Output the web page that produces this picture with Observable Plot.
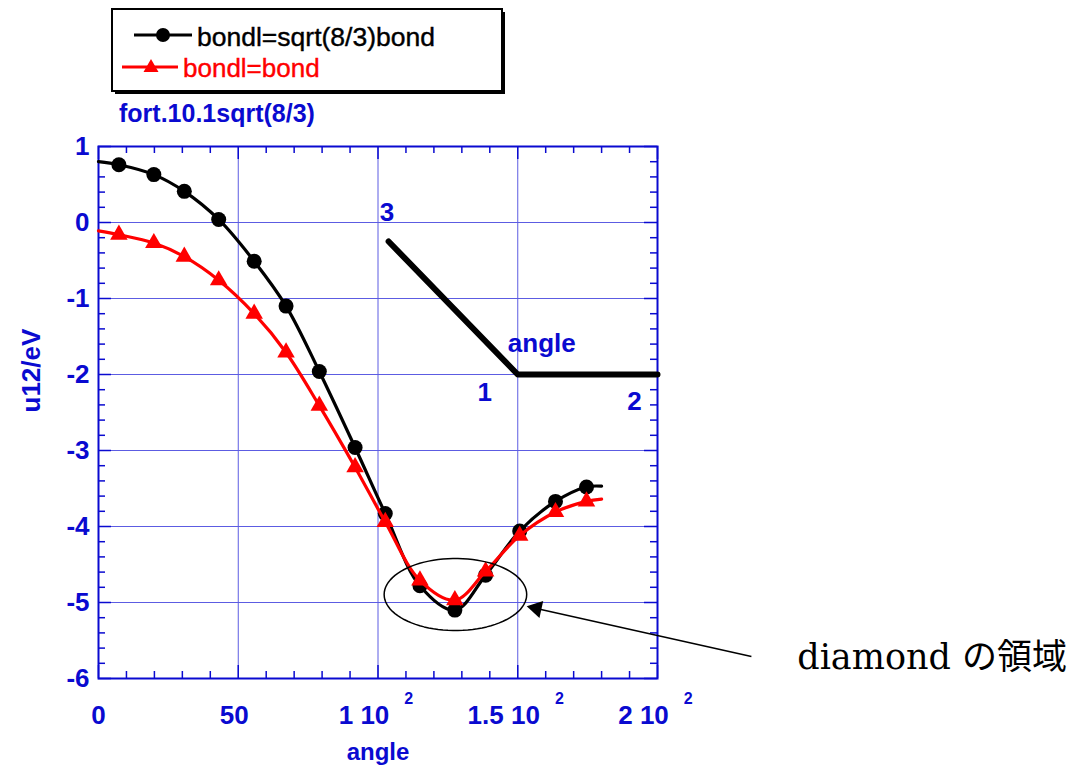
<!DOCTYPE html>
<html><head><meta charset="utf-8">
<script src="https://cdn.jsdelivr.net/npm/d3@7"></script>
<script src="https://cdn.jsdelivr.net/npm/@observablehq/plot@0.6"></script>
<style>
body{margin:0;background:#fff;}
#wrap{position:relative;width:1086px;height:772px;overflow:hidden;}
#wrap svg{position:absolute;left:0;top:0;}
</style></head>
<body>
<div id="wrap">
<svg id="legend" width="1086" height="130" style="font-family:'Liberation Sans',Arial,sans-serif">
  <rect x="115" y="12" width="390" height="82" fill="#000"/>
  <rect x="112" y="9" width="390" height="82" fill="#fff" stroke="#000" stroke-width="2"/>
  <line x1="134" y1="35" x2="192" y2="35" stroke="#000" stroke-width="3"/>
  <circle cx="163" cy="35" r="7" fill="#000"/>
  <text x="197" y="46" font-size="26.5" fill="#000" stroke="#000" stroke-width="0.4">bondl=sqrt(8/3)bond</text>
  <line x1="122" y1="67" x2="178" y2="67" stroke="#ff0000" stroke-width="3"/>
  <path d="M151,59 L158.5,72 L143.5,72 Z" fill="#ff0000"/>
  <text x="183" y="77" font-size="26" fill="#ff0000" stroke="#ff0000" stroke-width="0.4">bondl=bond</text>
  <text x="119" y="122" font-size="25" font-weight="bold" fill="#0a0ad0">fort.10.1sqrt(8/3)</text>
</svg>
</div>
<script>
// ---- data ----
const angles   = [7.3, 19.8, 30.7, 43, 55.7, 67.1, 79, 91.8, 102.6, 115, 127.5, 138.5, 150.7, 163.5, 174.6];
const sqrtBond = [0.76, 0.63, 0.41, 0.04, -0.51, -1.10, -1.96, -2.96, -3.83, -4.78, -5.10, -4.64, -4.06, -3.67, -3.48];
const bond     = [-0.16, -0.27, -0.45, -0.76, -1.20, -1.71, -2.41, -3.22, -3.94, -4.71, -4.97, -4.59, -4.12, -3.81, -3.67];
const lineEndAngles = [0, 180];
const sqrtBondEnds  = [0.80, -3.47];
const bondEnds      = [-0.11, -3.64];

const xTickValues = [0, 50, 100, 150, 200];
const xTickLabels = ["0", "50", "1 10", "1.5 10", "2 10"];
const xTickExps   = ["", "", "2", "2", "2"];
const yTickValues = [1, 0, -1, -2, -3, -4, -5, -6];
const yTickLabels = ["1", "0", "-1", "-2", "-3", "-4", "-5", "-6"];

// inset bond-angle sketch
const insetAngles = [103.8, 150, 200];
const insetValues = [-0.25, -2, -2];
const insetLabelText   = ["3", "1", "2", "angle"];
const insetLabelAngles = [103.2, 138.2, 191.8, 158.6];
const insetLabelValues = [0.13, -2.24, -2.36, -1.6];

// annotation
const ellipseCenter = [127.7, -4.895];
const ellipseRadii  = [25.5, 0.474];
const arrowTail = [233.6, -5.71];
const arrowTip  = [153.2, -5.05];
const noteText  = "diamond の領域";
const notePos   = [250, -5.73];

// ---- layout ----
const W = 1086, H = 772, mL = 98, mR = 429, mT = 146, mB = 94;
const pxX = (W - mL - mR) / 200, pxY = (H - mT - mB) / 7;
const blue = "#0a0ad0", gridBlue = "#5c5ce2";

const withEnds = (vals, ends) => {
  const pts = angles.map((a, i) => ({x: a, y: vals[i]}));
  return [{x: lineEndAngles[0], y: ends[0]}, ...pts, {x: lineEndAngles[1], y: ends[1]}];
};
const blackPts = angles.map((a, i) => ({x: a, y: sqrtBond[i]}));
const redPts = angles.map((a, i) => ({x: a, y: bond[i]}));
const blackLine = withEnds(sqrtBond, sqrtBondEnds);
const redLine = withEnds(bond, bondEnds);

const minorX = d3.range(0, 201, 10);
const minorY = d3.range(-30, 6).map(k => k / 5);
const isMajX = d => d % 50 === 0;
const isMajY = d => Math.abs(d - Math.round(d)) < 1e-6;
const lenX = d => (isMajX(d) ? 13 : 7) / pxY;
const lenY = d => (isMajY(d) ? 13 : 7) / pxX;

const ellipse = d3.range(0, 360, 4).map(t => ({
  x: ellipseCenter[0] + ellipseRadii[0] * Math.cos(t * Math.PI / 180),
  y: ellipseCenter[1] + ellipseRadii[1] * Math.sin(t * Math.PI / 180)
}));

// arrow head geometry in pixels
const sdx = (arrowTip[0] - arrowTail[0]) * pxX, sdy = -(arrowTip[1] - arrowTail[1]) * pxY;
const slen = Math.hypot(sdx, sdy);
const headH = 15, headBack = headH * 2 / 3;
const headC = {x: arrowTip[0] - (sdx / slen) * headBack / pxX, y: arrowTip[1] + (sdy / slen) * headBack / pxY};
const headRot = Math.atan2(sdx, -sdy) * 180 / Math.PI;
const headR = Math.sqrt(3 * Math.sqrt(3) * (headH / 3) ** 2 / Math.PI);

// tick label widths for superscript placement
const ctx = document.createElement("canvas").getContext("2d");
ctx.font = "bold 26px 'Liberation Sans'";
const xt = xTickValues.map((v, i) => ({v, label: xTickLabels[i], exp: xTickExps[i], w: ctx.measureText(xTickLabels[i]).width}));
const baseX = d => d.v + (d.exp ? -14 : (d.v === 50 ? -4 : 0)) / pxX;
const supX = d => d.v + (-14 + d.w / 2 + 15) / pxX;

const font = "Liberation Sans, Arial, sans-serif";

const chart = Plot.plot({
  width: W, height: H,
  marginLeft: mL, marginRight: mR, marginTop: mT, marginBottom: mB,
  x: {domain: [0, 200], axis: null},
  y: {domain: [-6, 1], axis: null},
  style: {background: "transparent", fontFamily: font, overflow: "visible"},
  marks: [
    Plot.gridX([50, 100, 150], {stroke: gridBlue, strokeOpacity: 1, strokeWidth: 1}),
    Plot.gridY([-5, -4, -3, -2, -1, 0], {stroke: gridBlue, strokeOpacity: 1, strokeWidth: 1}),
    // ticks (inward)
    Plot.ruleX(minorX, {x: d => d, y1: -6, y2: d => -6 + lenX(d), stroke: blue, strokeWidth: 1.5}),
    Plot.ruleX(minorX, {x: d => d, y1: 1, y2: d => 1 - lenX(d), stroke: blue, strokeWidth: 1.5}),
    Plot.ruleY(minorY, {y: d => d, x1: 0, x2: d => lenY(d), stroke: blue, strokeWidth: 1.5}),
    Plot.ruleY(minorY, {y: d => d, x1: 200, x2: d => 200 - lenY(d), stroke: blue, strokeWidth: 1.5}),
    Plot.frame({stroke: blue, strokeWidth: 2}),
    // tick labels
    Plot.text(yTickValues, {x: 0, y: d => d, text: (d, i) => yTickLabels[i], dx: -9, textAnchor: "end", fill: blue, fontSize: 26, fontWeight: "bold"}),
    Plot.text(xt, {x: baseX, y: -6, text: "label", dy: 37, fill: blue, fontSize: 26, fontWeight: "bold"}),
    Plot.text(xt.filter(d => d.exp), {x: supX, y: -6, text: "exp", dy: 20, textAnchor: "start", fill: blue, fontSize: 16, fontWeight: "bold"}),
    // axis titles
    Plot.text(["angle"], {frameAnchor: "bottom", dy: 81, fill: blue, fontSize: 24, fontWeight: "bold"}),
    Plot.text(["u12/eV"], {frameAnchor: "left", dx: -67, rotate: -90, fill: blue, fontSize: 26, fontWeight: "bold"}),
    // series
    Plot.line(blackLine, {x: "x", y: "y", curve: "catmull-rom", stroke: "black", strokeWidth: 3.2}),
    Plot.dot(blackPts, {x: "x", y: "y", r: 7.5, fill: "black"}),
    Plot.line(redLine, {x: "x", y: "y", curve: "catmull-rom", stroke: "#ff0000", strokeWidth: 3.2}),
    Plot.dot(redPts, {x: "x", y: "y", r: 6.5, symbol: "triangle", fill: "#ff0000"}),
    // inset sketch
    Plot.line(insetAngles.map((a, i) => ({x: a, y: insetValues[i]})), {x: "x", y: "y", stroke: "black", strokeWidth: 6, strokeLinecap: "round"}),
    Plot.text(insetLabelText.map((t, i) => ({t, x: insetLabelAngles[i], y: insetLabelValues[i]})), {x: "x", y: "y", text: "t", fill: blue, fontSize: 26, fontWeight: "bold"}),
    // annotation
    Plot.line(ellipse, {x: "x", y: "y", curve: "linear-closed", stroke: "black", strokeWidth: 1.5}),
    Plot.link([{}], {x1: arrowTail[0], y1: arrowTail[1], x2: headC.x, y2: headC.y, stroke: "black", strokeWidth: 1.5}),
    Plot.dot([headC], {x: "x", y: "y", symbol: "triangle", r: headR, rotate: headRot, fill: "black"}),
    Plot.text([noteText], {x: notePos[0], y: notePos[1], textAnchor: "start", fill: "black", fontSize: 35, fontFamily: "DejaVu Serif, Noto Sans CJK JP, serif"})
  ]
});
const wrap = document.getElementById("wrap");
wrap.insertBefore(chart, wrap.firstChild);
</script>
</body></html>
